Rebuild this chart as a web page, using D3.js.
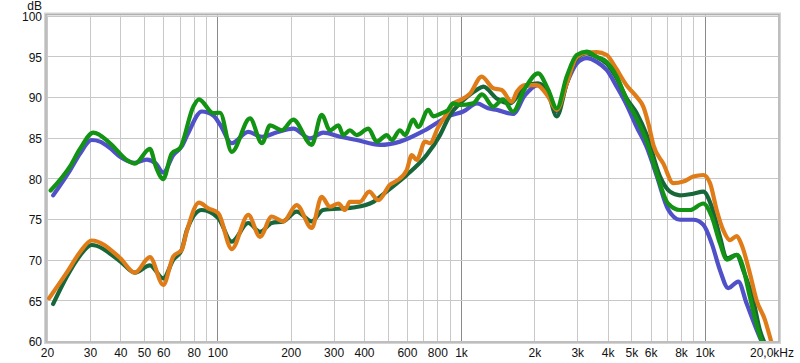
<!DOCTYPE html>
<html>
<head>
<meta charset="utf-8">
<script src="https://cdn.jsdelivr.net/npm/d3@7"></script>
<style>
  body { margin: 0; background: #fff; }
  svg { display: block; }
  .tick-label { font-family: "Liberation Sans", Arial, sans-serif; font-size: 12px; fill: #111; }
</style>
</head>
<body>
<div id="chart"></div>
<script>
var W = 800, H = 363;
var plot = { left: 47, right: 778, top: 15.5, bottom: 341 };

// grid + labels
var freqGrid = [20, 30, 40, 50, 60, 70, 80, 90, 100, 200, 300, 400, 500, 600, 700, 800, 900,
                1000, 2000, 3000, 4000, 5000, 6000, 7000, 8000, 9000, 10000, 20000];
var freqMajor = [100, 1000, 10000];
var freqTicks = [20, 30, 40, 50, 60, 80, 100, 200, 300, 400, 600, 800, 1000, 2000, 3000, 4000, 5000, 6000, 8000, 10000];
var freqTickLabels = ["20", "30", "40", "50", "60", "80", "100", "200", "300", "400", "600", "800",
                      "1k", "2k", "3k", "4k", "5k", "6k", "8k", "10k"];
var dbTicks = [60, 65, 70, 75, 80, 85, 90, 95, 100];

// series: [Hz, dB]
var blueUpper = [[21.2,77.9],[24.9,81.0],[27.3,83.0],[30.5,84.7],[33,84.5],[36.3,83.7],[39.9,82.65],[45.9,81.9],
  [51.4,82.3],[56,81.8],[60,80.7],[66,82.85],[71.4,83.9],[75.8,85.5],[86.3,88.2],[96.3,87.7],[102.6,86.6],
  [114.6,84.3],[134,85.7],[152.5,85.1],[175.8,85.65],[205,86.1],[240,84.9],[272,85.6],[319,85.1],[373,84.7],
  [465,84.1],[562,84.5],[712,85.9],[902,87.7],[1022,88.2],[1163,89.2],[1291,88.6],[1405,88.4],[1635,87.9],
  [1831,90.2],[2071,91.45],[2283,90.4],[2472,88.2],[2716,91.65],[2985,94.1],[3281,94.75],[3606,94.3],
  [3963,93.3],[4357,91.25],[4788,89.0],[5263,86.3],[5785,83.8],[6357,80.3],[7075,76.2],[7922,74.9],
  [8987,74.9],[9875,74.3],[10690,72.0],[11560,68.7],[12500,66.5],[13740,67.3],[14870,64.6],[16390,61.3],[17500,59.3]];

var greenUpper = [[20.7,78.5],[24.9,81.5],[27.3,83.6],[31,85.6],[36.3,84.3],[42.5,82.25],[45.9,81.8],[52.9,83.6],
  [56,81.4],[60,79.9],[65,83.05],[70.3,83.7],[79.7,88.8],[84.1,89.7],[96.3,88.0],[102.6,88.05],[114.6,83.25],
  [136.2,87.35],[152.5,84.3],[164.6,86.5],[183.8,85.9],[205,87.2],[244,84.1],[268,87.8],[290,85.9],[314,86.5],
  [329,85.3],[350,85.9],[373,85.3],[417,86.1],[451,84.5],[496,85.3],[520,84.7],[562,85.9],[589,85.3],[637,87.2],
  [668,86.3],[734,88.4],[770,87.6],[834,88.0],[885,88.4],[927,89.2],[991,89.0],[1120,89.2],[1220,90.3],
  [1357,88.8],[1488,89.7],[1635,88.2],[1831,91.05],[2071,92.9],[2283,90.85],[2472,88.6],[2716,92.5],
  [2985,95.15],[3281,95.55],[3606,94.9],[3963,94.3],[4357,92.5],[4788,89.6],[5263,87.3],[5785,84.5],
  [6357,80.6],[7075,76.9],[7922,76.1],[8711,76.1],[9875,76.9],[10690,75.3],[11560,72.0],[12350,70.0],
  [13580,70.6],[14230,69.5],[15340,65.4],[16590,61.3],[17500,59.3]];

var darkGreenLower = [[21.2,64.55],[24.1,67.9],[27.3,70.5],[30.5,71.8],[39.9,69.8],[45.9,68.4],[52.9,69.3],
  [60,67.7],[66,70.0],[71.4,71.2],[75,73.6],[86.3,76.1],[101,75.1],[114.6,72.2],[134,74.5],[149.7,73.4],
  [167.2,74.5],[186.6,74.7],[211.7,75.9],[244,74.7],[272,76.1],[361,76.4],[437,77.1],[496,78.4],[599,80.4],
  [723,82.85],[820,85.3],[902,87.8],[991,89.2],[1160,90.85],[1235,91.25],[1401,89.8],[1589,89.2],[1831,91.25],
  [2071,91.65],[2283,90.4],[2472,87.6],[2716,91.65],[2985,94.75],[3281,95.35],[3606,94.9],[3963,94.1],
  [4357,92.3],[4788,89.8],[5263,88.0],[5785,85.3],[6560,80.2],[7210,78.35],[7922,77.9],[8987,78.1],
  [9875,78.35],[10690,76.5],[11560,72.8],[12320,70.15],[13540,70.6],[14400,68.7],[15830,65.0],[16860,61.3],[17900,59.3]];

var orangeLower = [[20.4,65.25],[24.1,68.4],[27.3,70.9],[30.5,72.35],[39.9,70.2],[45.9,68.4],[52.9,70.3],
  [60,66.9],[66,70.4],[71.4,71.2],[75,73.5],[84.1,77.0],[91.8,76.3],[101,75.7],[114.6,71.3],[134,75.5],
  [149.7,72.8],[167.2,75.3],[186.6,74.7],[211.7,76.7],[244,73.9],[268,77.7],[290,76.5],[314,76.9],[334,76.1],
  [350,77.1],[385,77.1],[420,78.35],[458,77.3],[511,79.2],[545,79.7],[599,81.0],[628,82.85],[658,82.25],
  [712,84.5],[746,84.3],[807,86.3],[860,87.6],[930,89.2],[991,89.6],[1089,90.4],[1216,92.5],[1357,91.05],
  [1469,90.85],[1615,89.4],[1693,90.6],[1831,91.45],[2045,91.45],[2283,90.0],[2472,88.4],[2716,91.65],
  [2985,94.9],[3281,95.45],[3606,95.5],[3963,95.15],[4287,93.7],[4788,91.4],[5263,90.0],[5600,88.8],
  [5900,86.5],[6157,84.1],[6768,81.8],[7438,79.4],[8174,79.6],[8987,80.2],[9875,80.4],[10520,79.4],
  [11200,76.1],[11930,73.6],[12710,72.4],[13540,72.9],[14190,71.8],[15340,68.3],[16340,65.0],[17680,62.6],
  [18530,60.5],[19000,59.3]];

var series = [
  { name: "blue", data: blueUpper, color: "#5050c8" },
  { name: "darkgreen", data: darkGreenLower, color: "#17673a" },
  { name: "orange", data: orangeLower, color: "#e07c18" },
  { name: "green", data: greenUpper, color: "#139313" }
];

var x = d3.scaleLog().domain([20, 20000]).range([plot.left, plot.right]);
var y = d3.scaleLinear().domain([60, 100]).range([plot.bottom, plot.top]);

var svg = d3.select("#chart").append("svg")
    .attr("width", W)
    .attr("height", H);

svg.append("defs").append("clipPath").attr("id", "plotclip")
  .append("rect")
    .attr("x", plot.left).attr("y", plot.top)
    .attr("width", plot.right - plot.left).attr("height", plot.bottom - plot.top);

// vertical grid
svg.append("g").selectAll("line")
  .data(freqGrid)
  .enter().append("line")
    .attr("x1", function(d) { return Math.round(x(d)) + 0.5; })
    .attr("x2", function(d) { return Math.round(x(d)) + 0.5; })
    .attr("y1", plot.top)
    .attr("y2", plot.bottom)
    .attr("stroke", function(d) { return freqMajor.indexOf(d) >= 0 ? "#8a8a8a" : "#c8c8c8"; })
    .attr("stroke-width", 1);

// horizontal grid
svg.append("g").selectAll("line")
  .data(dbTicks)
  .enter().append("line")
    .attr("x1", plot.left)
    .attr("x2", plot.right)
    .attr("y1", function(d) { return Math.round(y(d)) + 0.5; })
    .attr("y2", function(d) { return Math.round(y(d)) + 0.5; })
    .attr("stroke", "#c8c8c8")
    .attr("stroke-width", 1);

// frame (grey shaded border)
svg.append("rect")
    .attr("x", plot.left - 1.5).attr("y", plot.top - 1.5)
    .attr("width", plot.right - plot.left + 3).attr("height", plot.bottom - plot.top + 3)
    .attr("fill", "none")
    .attr("stroke", "#d4d4d4")
    .attr("stroke-width", 3);
svg.append("rect")
    .attr("x", plot.left - 1).attr("y", plot.top - 1)
    .attr("width", plot.right - plot.left + 2).attr("height", plot.bottom - plot.top + 2)
    .attr("fill", "none")
    .attr("stroke", "#b0b0b0")
    .attr("stroke-width", 1.2);

// curves
var line = d3.line()
    .x(function(d) { return x(d[0]); })
    .y(function(d) { return y(d[1]); })
    .curve(d3.curveMonotoneX);

svg.append("g").attr("clip-path", "url(#plotclip)")
  .selectAll("path")
  .data(series)
  .enter().append("path")
    .attr("d", function(s) { return line(s.data); })
    .attr("fill", "none")
    .attr("stroke", function(s) { return s.color; })
    .attr("stroke-width", 4.2)
    .attr("stroke-linejoin", "round")
    .attr("stroke-linecap", "round");

// x axis labels
var xAxis = d3.axisBottom(x)
    .tickValues(freqTicks)
    .tickSize(0)
    .tickPadding(0)
    .tickFormat(function(d, i) { return freqTickLabels[i]; });

var gx = svg.append("g")
    .attr("transform", "translate(0," + (plot.bottom + 4) + ")")
    .call(xAxis);
gx.select(".domain").remove();
gx.selectAll("text").attr("class", "tick-label").attr("dy", "0.71em").attr("y", 3);

svg.append("text")
    .attr("class", "tick-label")
    .attr("x", 794)
    .attr("y", plot.bottom + 7)
    .attr("dy", "0.71em")
    .attr("text-anchor", "end")
    .text("20,0kHz");

// y axis labels
var yAxis = d3.axisLeft(y)
    .tickValues(dbTicks)
    .tickSize(0)
    .tickPadding(0)
    .tickFormat(d3.format("d"));

var gy = svg.append("g")
    .attr("transform", "translate(" + 42 + ",0)")
    .call(yAxis);
gy.select(".domain").remove();
gy.selectAll("text").attr("class", "tick-label").attr("dy", "0.4em");

svg.append("text")
    .attr("class", "tick-label")
    .attr("x", 42)
    .attr("y", 10)
    .attr("text-anchor", "end")
    .text("dB");
</script>
</body>
</html>
